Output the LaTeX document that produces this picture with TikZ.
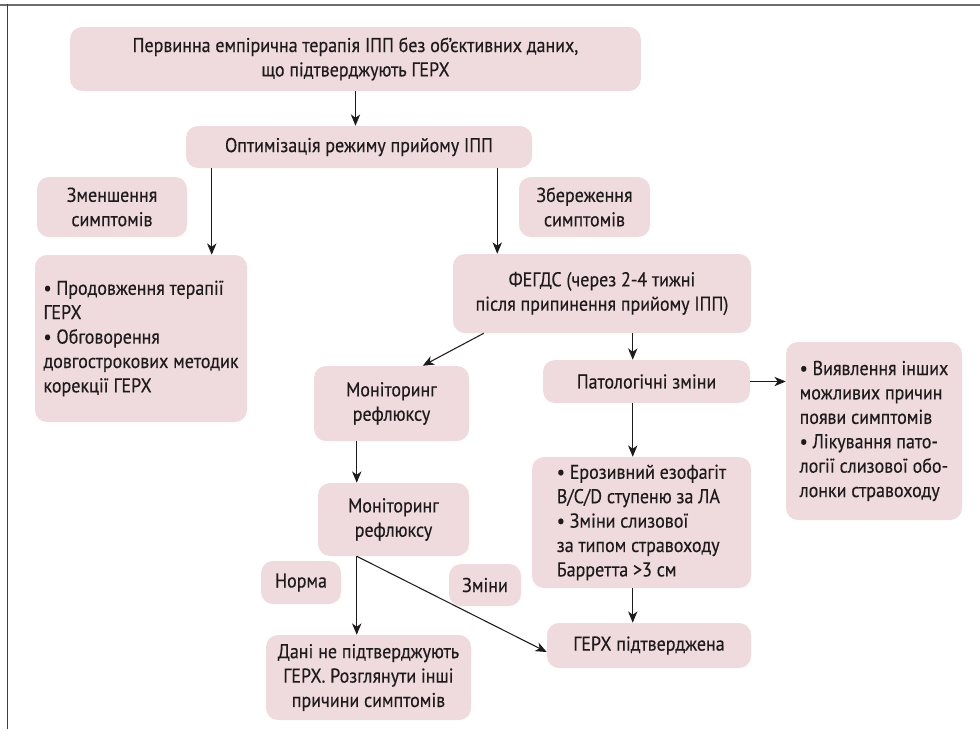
\documentclass[tikz,border=0pt]{standalone}
\usepackage{fontspec}
\setmainfont[FakeStretch=0.9,FakeBold=0.35]{PT Sans}
\usetikzlibrary{arrows.meta,calc}

\definecolor{pinkbox}{RGB}{239,218,222}
\definecolor{textc}{RGB}{30,27,28}
\definecolor{ramka}{RGB}{110,110,110}

\tikzset{
  blok/.style={fill=pinkbox, rounded corners=9pt, inner sep=0pt, align=center, text=textc, font=\fontsize{15}{18.3}\selectfont},
  spysok/.style={blok, align=left},
  strilka/.style={draw=textc, line width=0.8pt, -{Stealth[length=8.5pt,width=7pt,inset=2.5pt]}},
}

\begin{document}
\begin{tikzpicture}[x=0.75pt,y=0.75pt,yscale=-1,xscale=1]
\useasboundingbox (0,0) rectangle (980,729);

%Frame
\draw [ramka, line width=1.5pt] (0,4.5) -- (980,4.5) ;
\draw [textc!85, line width=1.1pt] (7.5,4) -- (7.5,729) ;

% Boxes
\node [blok, minimum width=428pt, minimum height=48pt] (perv) at (355.5,59) {Первинна емпірична терапія ІПП без об’єктивних даних,\\ що підтверджують ГЕРХ};
\node [blok, minimum width=259.5pt, minimum height=31.5pt] (optym) at (359,147) {Оптимізація режиму прийому ІПП};
\node [blok, minimum width=112.5pt, minimum height=45pt] (zmensh) at (112,207) {Зменшення\\ симптомів};
\node [spysok, minimum width=159pt, minimum height=125.25pt] (prodovzh) at (141,338.5) {• Продовження терапії\\ ГЕРХ\\ • Обговорення\\ довгострокових методик\\ корекції ГЕРХ};
\node [blok, minimum width=98.25pt, minimum height=45pt] (zberezh) at (584.5,207) {Збереження\\ симптомів};
\node [blok, minimum width=223.5pt, minimum height=59.25pt] (fegds) at (602,293.5) {ФЕГДС (через 2-4 тижні\\ після припинення прийому ІПП)};
\node [blok, minimum width=116.25pt, minimum height=56.25pt] (monit1) at (391.5,403.5) {Моніторинг\\ рефлюксу};
\node [blok, minimum width=155.25pt, minimum height=32.25pt] (patol) at (646.5,381.5) {Патологічні зміни};
\node [spysok, minimum width=132pt, minimum height=133.5pt] (vyjavl) at (874,431) {• Виявлення інших\\ можливих причин\\ появи симптомів\\ • Лікування пато-\\ логії слизової обо-\\ лонки стравоходу};
\node [spysok, minimum width=164.25pt, minimum height=98.25pt] (eroz) at (641.5,522.5) {• Ерозивний езофагіт\\ B/C/D ступеню за ЛА\\ • Зміни слизової\\ за типом стравоходу\\ Барретта >3 см};
\node [blok, minimum width=113.25pt, minimum height=54.75pt] (monit2) at (393.5,519.5) {Моніторинг\\ рефлюксу};
\node [blok, minimum width=60pt, minimum height=32.25pt] (norma) at (301,582.5) {Норма};
\node [blok, minimum width=54pt, minimum height=31.5pt] (zminy) at (485,585) {Зміни};
\node [blok, minimum width=153.75pt, minimum height=63.75pt] (dani) at (368.5,677.5) {Дані не підтверджують\\ ГЕРХ. Розглянути інші\\ причини симптомів};
\node [blok, minimum width=153pt, minimum height=33.75pt] (gerx) at (649,645.5) {ГЕРХ підтверджена};

% Arrow columns
\coordinate (k1) at ($(optym.south west)+(26,0)$);
\coordinate (k2) at ($(optym.south east)+(-35,0)$);
\coordinate (k3) at ($(patol.north west)+(90,0)$);
\coordinate (k4) at ($(monit2.south west)+(39,0)$);

% Arrows
\draw [strilka] (perv.south) -- (perv.south |- optym.north) ;
\draw [strilka] (k1) -- (k1 |- prodovzh.north) ;
\draw [strilka] (k2) -- (k2 |- fegds.north) ;
\draw [strilka] ($(fegds.south west)+(31,0)$) -- ($(monit1.north west)+(109,0)$) ;
\draw [strilka] (fegds.south -| k3) -- (k3) ;
\draw [strilka] (patol.south -| k3) -- (eroz.north -| k3) ;
\draw [strilka] (patol.east) -- (vyjavl.west |- patol.east) ;
\draw [strilka] (eroz.south -| k3) -- (gerx.north -| k3) ;
\draw [strilka] (monit1.south -| k4) -- (monit2.north -| k4) ;
\draw [strilka] (k4) -- (dani.north -| k4) ;
\draw [strilka] (k4) -- ($(gerx.west)+(0,6.5)$) ;

\end{tikzpicture}
\end{document}
